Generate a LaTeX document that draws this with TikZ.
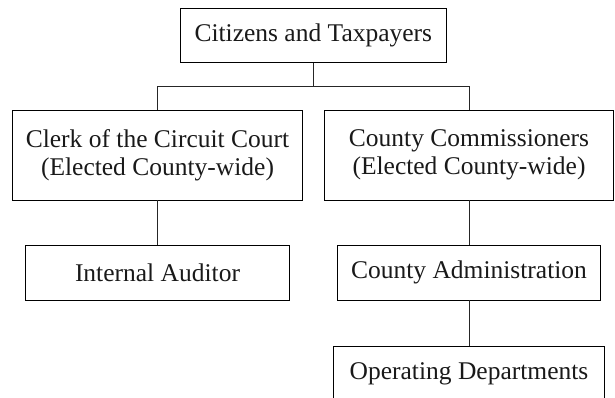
\documentclass[tikz,border=0pt]{standalone}
\usepackage{fontspec}
\setmainfont{Liberation Serif}
\begin{document}
\begin{tikzpicture}[x=1pt,y=-1pt,
  orgbox/.style={draw=black, line width=0.9pt, inner sep=0pt, align=center,
    font=\fontsize{25.5}{28}\selectfont, text=black!90},
  conn/.style={draw=black!85, line width=0.9pt}]
\useasboundingbox (0,0) rectangle (615,398);
\clip (0,0) rectangle (615,398);
\node[orgbox, minimum width=265.3pt, minimum height=54.4pt] (top) at (313.3,35.5) {Citizens and Taxpayers};
\node[orgbox, minimum width=290pt, minimum height=90pt] (clerk) at (157.5,155) {Clerk of the Circuit Court\\(Elected County-wide)};
\node[orgbox, minimum width=289pt, minimum height=90pt] (comm) at (469,155) {County Commissioners\\(Elected County-wide)};
\node[orgbox, minimum width=264pt, minimum height=55pt] (aud) at (157.5,272.5) {Internal Auditor};
\node[orgbox, minimum width=263.6pt, minimum height=55pt] (admin) at (469,272.5) {County Administration};
\node[orgbox, minimum width=270.7pt, minimum height=55pt] (ops) at (469,373.5) {Operating Departments};
\coordinate (j) at (313.3,86.7);
\draw[conn] (top.south) -- (j);
\draw[conn] (clerk.north) |- (j) -| (comm.north);
\draw[conn] (clerk.south) -- (aud.north);
\draw[conn] (comm.south) -- (admin.north);
\draw[conn] (admin.south) -- (ops.north);
\end{tikzpicture}
\end{document}
